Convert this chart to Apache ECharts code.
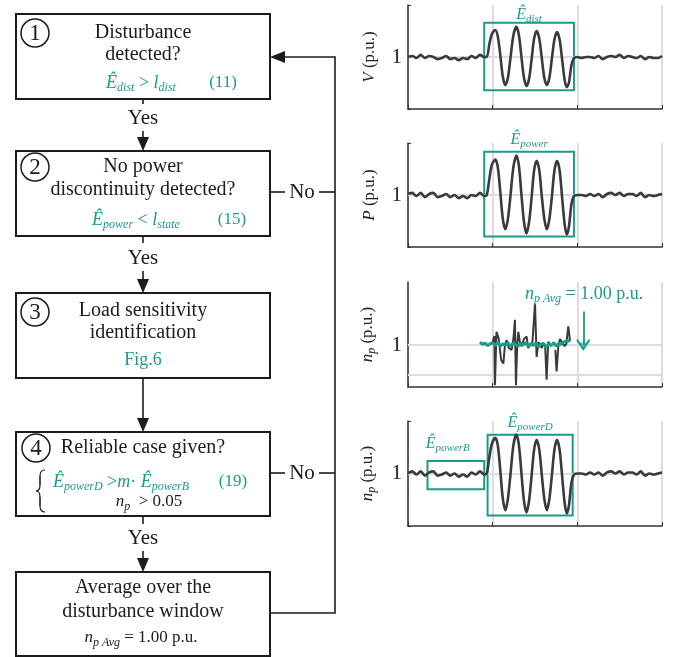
<!DOCTYPE html>
<html>
<head>
<meta charset="utf-8">
<script src="https://cdn.jsdelivr.net/npm/echarts@6/dist/echarts.min.js"></script>
<style>
  html, body { margin: 0; padding: 0; background: #fff; }
  #main { width: 673px; height: 657px; }
</style>
</head>
<body>
<div id="main"></div>
<script>
// time base shared by the V, P and n_p traces (before / during / after the disturbance)
var tWave = [0, 0.05, 0.10, 0.15, 0.20, 0.25, 0.30, 0.35, 0.40, 0.45, 0.50, 0.55, 0.60, 0.65, 0.70, 0.75, 0.80, 0.85, 0.90,
  0.93, 0.96, 0.99, 1.03, 1.06, 1.09, 1.12, 1.15, 1.18, 1.21, 1.245, 1.28, 1.31, 1.34, 1.37, 1.40, 1.43, 1.46, 1.49, 1.52,
  1.55, 1.58, 1.61, 1.64, 1.67, 1.70, 1.73, 1.76, 1.79, 1.82, 1.85, 1.875, 1.90, 1.93, 1.96,
  2.00, 2.05, 2.10, 2.15, 2.20, 2.25, 2.30, 2.35, 2.40, 2.45, 2.50, 2.55, 2.60, 2.65, 2.70, 2.75, 2.80, 2.85, 2.90, 2.95, 3.00]

var vWave = [1.00, 1.01, 0.99, 1.02, 0.99, 1.01, 1.00, 0.98, 0.99, 1.01, 0.98, 0.99, 0.97, 0.99, 0.98, 1.01, 0.99, 1.02, 1.00,
  1.00, 1.12, 1.22, 1.26, 1.20, 1.02, 0.81, 0.73, 0.80, 0.99, 1.21, 1.29, 1.21, 1.00, 0.80, 0.72, 0.79, 0.98, 1.18, 1.25,
  1.18, 0.99, 0.80, 0.73, 0.80, 0.99, 1.17, 1.24, 1.17, 0.98, 0.78, 0.71, 0.75, 0.92, 0.99,
  1.00, 0.99, 1.00, 1.00, 0.99, 1.01, 0.98, 1.00, 1.01, 1.00, 1.02, 0.99, 1.01, 1.00, 0.99, 1.01, 0.98, 1.00, 0.99, 0.99, 1.01]

var pWave = [1.01, 1.02, 0.99, 1.02, 0.98, 1.01, 1.02, 0.98, 0.99, 1.01, 0.98, 1.00, 0.97, 0.99, 0.97, 1.00, 0.99, 1.02, 0.99,
  1.00, 1.15, 1.29, 1.34, 1.27, 1.03, 0.77, 0.67, 0.77, 0.99, 1.27, 1.38, 1.28, 1.00, 0.74, 0.63, 0.74, 0.98, 1.24, 1.33,
  1.24, 0.99, 0.77, 0.67, 0.77, 0.99, 1.24, 1.33, 1.24, 0.98, 0.72, 0.62, 0.69, 0.91, 0.99,
  1.00, 1.00, 0.99, 1.01, 0.99, 1.01, 0.98, 1.01, 1.02, 1.00, 1.02, 0.99, 1.01, 1.01, 0.99, 1.02, 0.98, 1.00, 0.99, 1.00, 1.01]

var npWave = [1.00, 1.02, 0.99, 1.02, 0.98, 1.01, 1.02, 0.98, 0.99, 1.01, 0.98, 1.00, 0.97, 0.99, 0.97, 1.01, 0.99, 1.02, 0.99,
  1.00, 1.15, 1.28, 1.34, 1.27, 1.03, 0.76, 0.65, 0.76, 0.99, 1.27, 1.37, 1.27, 1.00, 0.74, 0.63, 0.74, 0.98, 1.23, 1.32,
  1.23, 0.99, 0.76, 0.65, 0.76, 0.99, 1.23, 1.32, 1.23, 0.98, 0.72, 0.62, 0.69, 0.91, 0.99,
  1.00, 1.00, 0.99, 1.01, 0.99, 1.01, 0.98, 1.01, 1.02, 1.00, 1.02, 0.99, 1.01, 1.01, 0.99, 1.02, 0.98, 1.00, 0.99, 1.00, 1.01]

// raw n_p estimate (black, spiky) and its running average (teal)
var tNpRaw = [1.00, 1.02, 1.027, 1.045, 1.07, 1.10, 1.126, 1.145, 1.165, 1.19, 1.224, 1.245, 1.263, 1.275, 1.29, 1.303,
  1.325, 1.342, 1.37, 1.401, 1.42, 1.44, 1.47, 1.50, 1.519, 1.54, 1.558, 1.58, 1.598, 1.62, 1.637, 1.656, 1.676, 1.70,
  1.74, 1.755, 1.775, 1.795, 1.82, 1.85, 1.87, 1.893, 1.913]
var npRaw = [1.05, 1.15, 0.33, 1.22, 1.12, 0.75, 0.69, 1.00, 1.08, 0.95, 0.92, 1.10, 1.42, 0.33, 1.00, 1.22,
  1.02, 0.98, 1.10, 1.14, 0.95, 0.92, 1.05, 1.69, 0.80, 1.05, 1.08, 0.95, 1.02, 0.98, 0.42, 1.05, 1.03, null,
  0.92, 0.56, 0.97, 1.10, 1.05, 0.98, 1.02, 1.31, 1.08]

var tNpAvg = [0.85, 0.88, 0.91, 0.94, 0.97, 1.00, 1.03, 1.06, 1.09, 1.12, 1.15, 1.18, 1.21, 1.24, 1.27, 1.30, 1.33, 1.36,
  1.39, 1.42, 1.45, 1.48, 1.51, 1.54, 1.57, 1.60, 1.63, 1.66, 1.69, 1.72, 1.75, 1.78, 1.81, 1.84, 1.87, 1.90, 1.91]
var npAvg = [1.05, 1.01, 1.03, 0.99, 1.02, 1.04, 0.99, 1.05, 0.98, 1.02, 1.00, 1.04, 0.97, 1.03, 1.01, 0.98, 1.03, 1.00,
  1.04, 0.98, 1.02, 0.99, 1.04, 0.97, 1.01, 1.03, 0.96, 1.02, 0.99, 1.04, 0.98, 1.03, 1.01, 1.05, 1.07, 1.06, 1.09]

var TEAL = '#1a9c8a'
var INK = '#1c1c1c'
var TRACE = '#3a3a3a'
var GRIDC = '#dddddd'
var SERIF = '"Liberation Serif", "DejaVu Serif", serif'

function zip (t, v) {
  return t.map(function (x, i) { return [x, v[i]] })
}

// rich styles for math text, used both in echarts labels (color) and zrender graphic text (fill)
function mathRich (color, size) {
  var sub = Math.round(size * 0.68)
  return {
    i: { fontFamily: SERIF, fontStyle: 'italic', fontSize: size, color: color, fill: color },
    r: { fontFamily: SERIF, fontSize: size, color: color, fill: color },
    s: { fontFamily: SERIF, fontStyle: 'italic', fontSize: sub, color: color, fill: color, verticalAlign: 'bottom', padding: [Math.round(size * 0.55), 0, 0, 0] }
  }
}

// ---------- flowchart (left half) ----------
var flow = []
function box (y0, y1) {
  flow.push({ type: 'rect', shape: { x: 16, y: y0, width: 254, height: y1 - y0 }, style: { fill: '#fff', stroke: INK, lineWidth: 2 } })
}
function seg (pts) {
  flow.push({ type: 'polyline', shape: { points: pts }, style: { stroke: INK, lineWidth: 1.6, fill: null } })
}
function curve (x1, y1, cx, cy, x2, y2) {
  flow.push({ type: 'bezierCurve', shape: { x1: x1, y1: y1, cpx1: cx, cpy1: cy, x2: x2, y2: y2 }, style: { stroke: INK, lineWidth: 1.2, fill: null } })
}
function headDown (x, y) {
  flow.push({ type: 'polygon', shape: { points: [[x - 6, y - 14], [x + 6, y - 14], [x, y]] }, style: { fill: INK } })
}
function headLeft (x, y) {
  flow.push({ type: 'polygon', shape: { points: [[x + 15, y - 6], [x + 15, y + 6], [x, y]] }, style: { fill: INK } })
}
function txt (x, y, text, size, color, rich) {
  flow.push({
    type: 'text', x: x, y: y, z: 10,
    style: {
      text: text, fill: color || INK, font: size + 'px ' + SERIF, fontSize: size, fontFamily: SERIF,
      align: 'center', verticalAlign: 'middle', textAlign: 'center', textVerticalAlign: 'middle',
      rich: rich || {}
    }
  })
}
function circ (cx, cy, n) {
  flow.push({ type: 'circle', shape: { cx: cx, cy: cy, r: 14 }, style: { fill: '#fff', stroke: INK, lineWidth: 1.5 } })
  txt(cx, cy + 1, n, 23)
}

box(14, 99); box(151, 236); box(293, 378); box(432, 516); box(572, 656)
circ(35, 33, '1'); circ(35, 167, '2'); circ(35, 312, '3'); circ(36, 448, '4')

txt(143, 33, 'Disturbance', 20); txt(143, 55, 'detected?', 20)
txt(141, 83, '{i|Ê}{s|dist}{r| > }{i|l}{s|dist}', 18, TEAL, mathRich(TEAL, 18))
txt(223, 83, '(11)', 17, TEAL)

seg([[143, 99], [143, 104]]); txt(143, 118, 'Yes', 21); seg([[143, 131], [143, 140]]); headDown(143, 151)

txt(143, 167, 'No power', 20); txt(143, 190, 'discontinuity detected?', 20)
txt(136, 220, '{i|Ê}{s|power}{r| < }{i|l}{s|state}', 18, TEAL, mathRich(TEAL, 18))
txt(232, 220, '(15)', 17, TEAL)

seg([[143, 236], [143, 243]]); txt(143, 258, 'Yes', 21); seg([[143, 271], [143, 282]]); headDown(143, 293)

txt(143, 311, 'Load sensitivity', 20); txt(143, 333, 'identification', 20)
txt(143, 360, 'Fig.6', 18, TEAL)

seg([[143, 378], [143, 420]]); headDown(143, 432)

txt(143, 448, 'Reliable case given?', 20)
txt(121, 482, '{i|Ê}{s|powerD}{r| >}{i|m}{r|· }{i|Ê}{s|powerB}', 18, TEAL, mathRich(TEAL, 18))
txt(233, 482, '(19)', 17, TEAL)
txt(149, 502, '{i|n}{s|p}{r|  > 0.05}', 17, INK, mathRich(INK, 17))
// curly brace in front of the two conditions
curve(45, 470, 40, 470, 40, 476); seg([[40, 476], [40, 485]]); curve(40, 485, 40, 491, 36, 491)
curve(36, 491, 40, 491, 40, 497); seg([[40, 497], [40, 506]]); curve(40, 506, 40, 512, 45, 512)

seg([[143, 516], [143, 524]]); txt(143, 538, 'Yes', 21); seg([[143, 551], [143, 560]]); headDown(143, 572)

txt(143, 588, 'Average over the', 20); txt(143, 612, 'disturbance window', 20)
txt(141, 638, '{i|n}{s|p Avg}{r| = 1.00 p.u.}', 17, INK, mathRich(INK, 17))

// feedback loop on the right
seg([[270, 613], [335, 613], [335, 57], [285, 57]]); headLeft(270, 57)
seg([[270, 192], [285, 192]]); txt(302, 192, 'No', 21); seg([[319, 192], [335, 192]])
seg([[270, 473], [285, 473]]); txt(302, 473, 'No', 21); seg([[319, 473], [335, 473]])

// ---------- plots (right half) ----------
var grids = [
  { left: 408, top: 5, width: 254, height: 104 },
  { left: 408, top: 143, width: 254, height: 104 },
  { left: 408, top: 282, width: 254, height: 105 },
  { left: 408, top: 421, width: 254, height: 105 }
]

var xAxes = grids.map(function (g, i) {
  return {
    type: 'value', gridIndex: i, min: 0, max: 3, interval: 1,
    axisLabel: { show: false },
    axisLine: { lineStyle: { color: '#333', width: 1.5 } },
    axisTick: { inside: true, length: 4, lineStyle: { color: '#333' } },
    splitLine: { show: true, lineStyle: { color: GRIDC, width: 2 } }
  }
})

var yNames = ['{i|V} (p.u.)', '{i|P} (p.u.)', '{i|n}{s|p} (p.u.)', '{i|n}{s|p} (p.u.)']
var yAxes = grids.map(function (g, i) {
  var isNp = i === 2
  return {
    type: 'value', gridIndex: i,
    min: isNp ? 0.3 : 0.5, max: isNp ? 2.05 : 1.5, interval: isNp ? 0.05 : 0.5,
    name: yNames[i], nameLocation: 'middle', nameGap: 30,
    nameTextStyle: { fontFamily: SERIF, fontSize: 17, color: '#222', rich: mathRich('#222', 17) },
    axisLine: { show: true, lineStyle: { color: '#333', width: 1.5 } },
    axisTick: { show: !isNp, inside: true, length: 3, lineStyle: { color: '#333' } },
    axisLabel: {
      fontFamily: SERIF, fontSize: 21, color: '#222', margin: 6,
      formatter: function (v) { return Math.abs(v - 1) < 1e-6 ? '1' : '' }
    },
    splitLine: { show: false }
  }
})

// light horizontal grid lines, kept under the traces
function gridLines (i, ys) {
  return {
    type: 'line', xAxisIndex: i, yAxisIndex: i, data: [], z: 1, silent: true,
    markLine: {
      z: 1, silent: true, symbol: 'none', label: { show: false },
      lineStyle: { color: GRIDC, width: 2, type: 'solid' },
      data: ys.map(function (y) { return { yAxis: y } })
    }
  }
}

function boxLabel (txt, dist, bg, dx) {
  return {
    show: true, position: 'top', distance: dist, formatter: txt, offset: [dx || 0, 0],
    backgroundColor: bg ? '#fff' : 'transparent', padding: [0, 3],
    rich: mathRich(TEAL, 16)
  }
}
var boxStyle = { color: 'rgba(0,0,0,0)', borderColor: TEAL, borderWidth: 2 }

function trace (i, data, areas) {
  return {
    type: 'line', xAxisIndex: i, yAxisIndex: i, data: data, smooth: 0.3, showSymbol: false, z: 3,
    lineStyle: { color: TRACE, width: 2.6 },
    markArea: { silent: true, itemStyle: boxStyle, data: areas }
  }
}

var series = [
  gridLines(0, [1]), gridLines(1, [1]), gridLines(2, [1, 0.5]), gridLines(3, [1]),
  trace(0, zip(tWave, vWave), [[
    { xAxis: 0.90, yAxis: 1.33, label: boxLabel('{i|Ê}{s|dist}', -3, false) }, { xAxis: 1.96, yAxis: 0.68 }
  ]]),
  trace(1, zip(tWave, pWave), [[
    { xAxis: 0.90, yAxis: 1.415, label: boxLabel('{i|Ê}{s|power}', 1, true) }, { xAxis: 1.96, yAxis: 0.60 }
  ]]),
  trace(3, zip(tWave, npWave), [
    [{ xAxis: 0.23, yAxis: 1.12, label: boxLabel('{i|Ê}{s|powerB}', 6, false, -8) }, { xAxis: 0.90, yAxis: 0.85 }],
    [{ xAxis: 0.94, yAxis: 1.37, label: boxLabel('{i|Ê}{s|powerD}', 1, true) }, { xAxis: 1.945, yAxis: 0.60 }]
  ]),
  {
    type: 'line', xAxisIndex: 2, yAxisIndex: 2, data: zip(tNpRaw, npRaw), showSymbol: false, z: 3,
    connectNulls: false, lineStyle: { color: TRACE, width: 2 }
  },
  {
    type: 'line', xAxisIndex: 2, yAxisIndex: 2, data: zip(tNpAvg, npAvg), showSymbol: false, z: 4,
    lineStyle: { color: TEAL, width: 3 },
    markLine: {
      silent: true, symbol: ['none', 'path://M0,10 L10,0 L20,10 L18,11.5 L10,3.5 L2,11.5 Z'], symbolSize: [14, 12],
      label: { show: false }, lineStyle: { color: TEAL, width: 1.8, type: 'solid' },
      data: [[{ coord: [2.07, 1.56] }, { coord: [2.07, 1.0] }]]
    },
    markPoint: {
      silent: true, symbol: 'circle', symbolSize: 0,
      data: [
        { coord: [2.08, 1.85], label: { show: true, position: 'inside', formatter: '{i|n}{s|p Avg}{r| = 1.00 p.u.}', rich: mathRich(TEAL, 18) } },
        { coord: [2.07, 0.95], label: { show: true, position: 'inside', formatter: '*', color: TEAL, fontSize: 16, fontFamily: SERIF } }
      ]
    }
  }
]

var chart = echarts.init(document.getElementById('main'), null, { renderer: 'canvas' })
chart.setOption({
  animation: false,
  backgroundColor: '#fff',
  grid: grids,
  xAxis: xAxes,
  yAxis: yAxes,
  series: series,
  graphic: { elements: flow }
})
</script>
</body>
</html>
